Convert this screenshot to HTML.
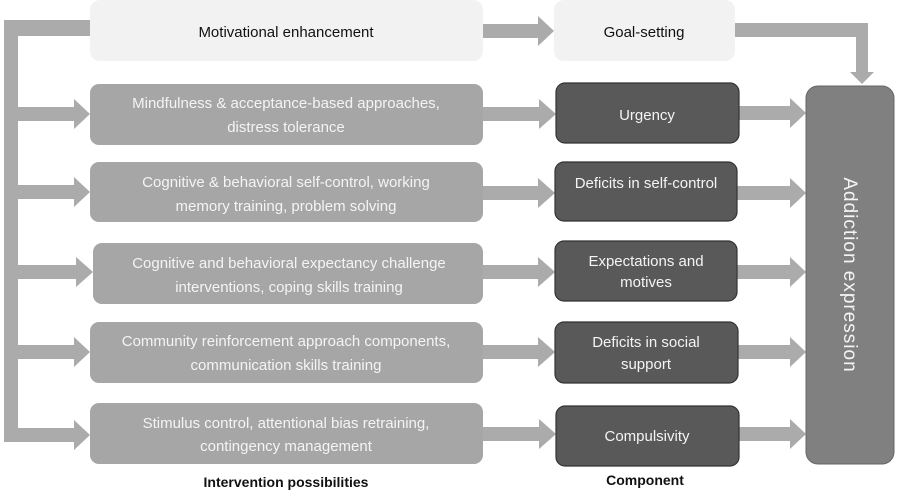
<!DOCTYPE html>
<html><head><meta charset="utf-8"><style>
html,body{margin:0;padding:0;background:#fff;}
svg{display:block;font-family:"Liberation Sans",sans-serif;}
</style></head><body>
<svg width="898" height="492" viewBox="0 0 898 492" xmlns="http://www.w3.org/2000/svg">
<g fill="#ababab">
<!-- left bus -->
<rect x="4" y="20" width="86" height="16"/>
<rect x="4" y="20" width="14" height="422"/>
<!-- left arrows -->
<polygon points="18,107 74,107 74,99 90,114 74,129 74,121 18,121"/>
<polygon points="18,185 74,185 74,177 90,192 74,207 74,199 18,199"/>
<polygon points="18,265 76,265 76,257 93,272 76,287 76,279 18,279"/>
<polygon points="18,345 74,345 74,337 90,352 74,367 74,359 18,359"/>
<polygon points="18,428 74,428 74,420 90,435 74,450 74,442 18,442"/>
<!-- middle arrows -->
<polygon points="483,24 538,24 538,16 554,31 538,46 538,38 483,38"/>
<polygon points="483,107 539,107 539,99 556,114 539,129 539,121 483,121"/>
<polygon points="483,186 538,186 538,178 555,193 538,208 538,200 483,200"/>
<polygon points="483,265 538,265 538,257 555,272 538,287 538,279 483,279"/>
<polygon points="483,345 538,345 538,337 555,352 538,367 538,359 483,359"/>
<polygon points="483,427 539,427 539,419 556,434 539,449 539,441 483,441"/>
<!-- right arrows -->
<polygon points="739,106 790,106 790,98 806,113 790,128 790,120 739,120"/>
<polygon points="737,186 790,186 790,178 806,193 790,208 790,200 737,200"/>
<polygon points="737,265 790,265 790,257 806,272 790,287 790,279 737,279"/>
<polygon points="738,345 790,345 790,337 806,352 790,367 790,359 738,359"/>
<polygon points="739,427 790,427 790,419 806,434 790,449 790,441 739,441"/>
<!-- goal elbow -->
<polygon points="735,23 868,23 868,72 874,72 862,84 850,72 856,72 856,37 735,37"/>
</g>
<!-- top boxes -->
<rect x="90" y="0" width="393" height="61" rx="10" fill="#f2f2f2"/>
<rect x="554" y="0" width="181" height="61" rx="10" fill="#f2f2f2"/>
<!-- intervention boxes -->
<g fill="#a6a6a6">
<rect x="90" y="84" width="393" height="61" rx="9"/>
<rect x="90" y="162" width="393" height="60" rx="9"/>
<rect x="93" y="243" width="390" height="61" rx="9"/>
<rect x="90" y="322" width="393" height="61" rx="9"/>
<rect x="90" y="403" width="393" height="61" rx="9"/>
</g>
<!-- component boxes -->
<g fill="#595959" stroke="#333" stroke-width="1.2">
<rect x="556" y="83" width="183" height="60" rx="9"/>
<rect x="555" y="162" width="182" height="59" rx="9"/>
<rect x="555" y="241" width="182" height="60" rx="9"/>
<rect x="555" y="322" width="183" height="61" rx="9"/>
<rect x="556" y="406" width="183" height="60" rx="9"/>
</g>
<rect x="806" y="86" width="88" height="378" rx="12" fill="#808080" stroke="#666" stroke-width="1"/>
<g font-size="15" text-anchor="middle">
<text x="286" y="37" fill="#111">Motivational enhancement</text>
<text x="644" y="37" fill="#111">Goal-setting</text>
<g fill="#f4f4f4">
<text x="286" y="108">Mindfulness &amp; acceptance-based approaches,</text>
<text x="286" y="132">distress tolerance</text>
<text x="286" y="187">Cognitive &amp; behavioral self-control, working</text>
<text x="286" y="211">memory training, problem solving</text>
<text x="289" y="268">Cognitive and behavioral expectancy challenge</text>
<text x="289" y="292">interventions, coping skills training</text>
<text x="286" y="346">Community reinforcement approach components,</text>
<text x="286" y="370">communication skills training</text>
<text x="286" y="428">Stimulus control, attentional bias retraining,</text>
<text x="286" y="451">contingency management</text>
<text x="647" y="120">Urgency</text>
<text x="646" y="188">Deficits in self-control</text>
<text x="646" y="266">Expectations and</text>
<text x="646" y="287">motives</text>
<text x="646" y="347">Deficits in social</text>
<text x="646" y="369">support</text>
<text x="647" y="441">Compulsivity</text>
</g>
</g>
<text transform="translate(844,275) rotate(90)" text-anchor="middle" font-size="19" fill="#f4f4f4" letter-spacing="1">Addiction expression</text>
<text x="286" y="487" text-anchor="middle" font-size="14" font-weight="bold" fill="#111">Intervention possibilities</text>
<text x="645" y="485" text-anchor="middle" font-size="14" font-weight="bold" fill="#111">Component</text>
</svg>
</body></html>
